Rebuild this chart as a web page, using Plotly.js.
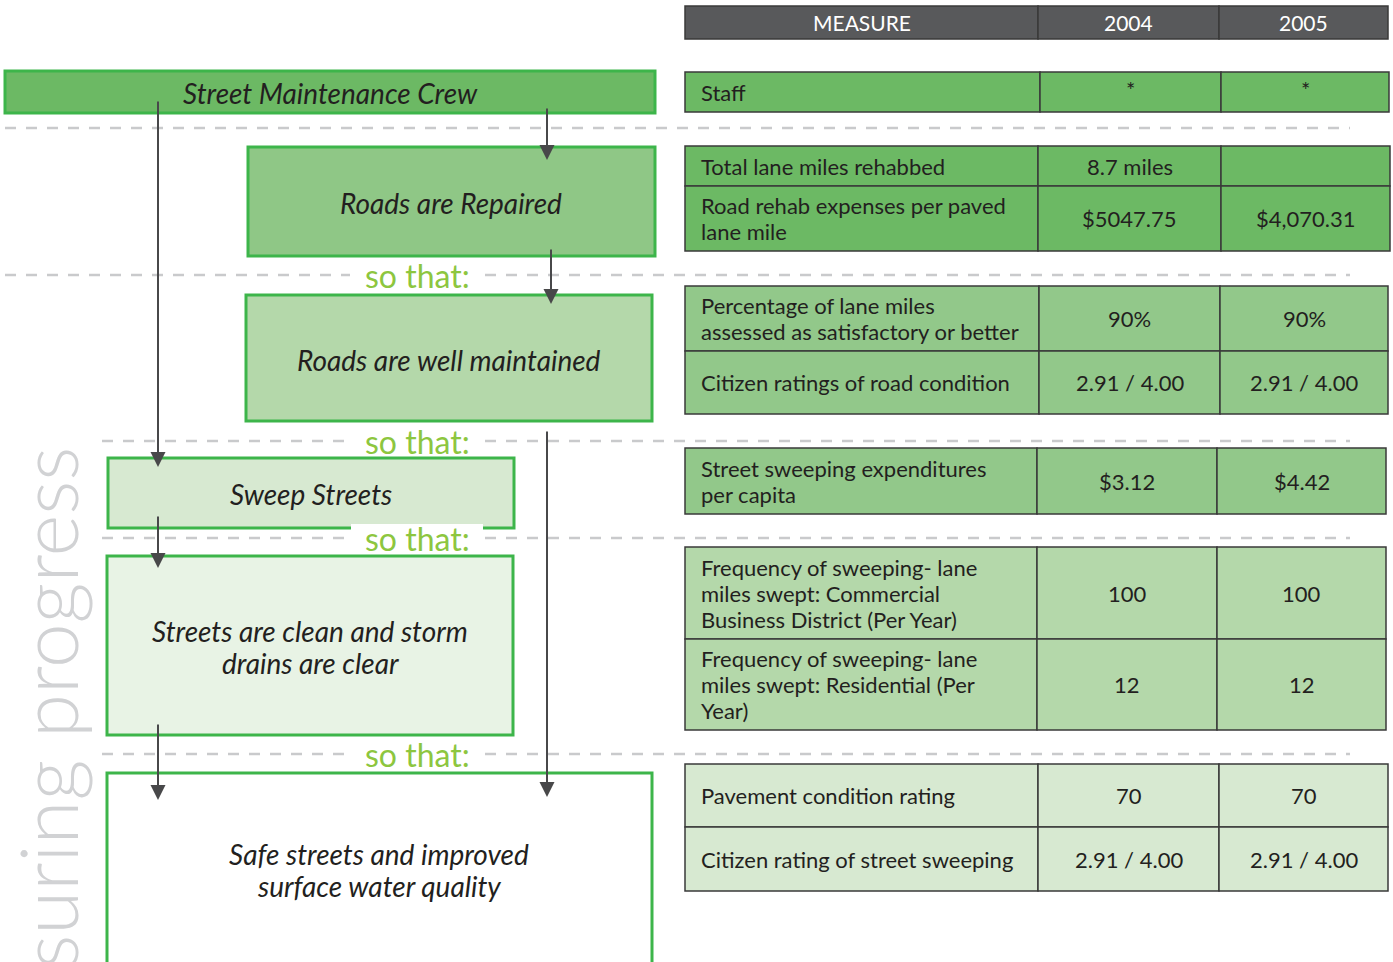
<!DOCTYPE html>
<html>
<head>
<meta charset="utf-8">
<script src="https://cdn.plot.ly/plotly-3.0.1.min.js"></script>
<style>html,body{margin:0;padding:0;background:#fff;}#chart{width:1393px;height:962px;}</style>
</head>
<body>
<div id="chart"></div>
<script>
// ---------- DATA ----------
const flowLabels = [
  "Street Maintenance Crew",
  "Roads are Repaired",
  "Roads are well maintained",
  "Sweep Streets",
  "Streets are clean and storm<br>drains are clear",
  "Safe streets and improved<br>surface water quality"
];
const connectorLabel = "so that:";
const sideLabel = "measuring progress";
const headers = ["MEASURE", "2004", "2005"];
const measures = [
  "Staff",
  "Total lane miles rehabbed",
  "Road rehab expenses per paved<br>lane mile",
  "Percentage of lane miles<br>assessed as satisfactory or better",
  "Citizen ratings of road condition",
  "Street sweeping expenditures<br>per capita",
  "Frequency of sweeping- lane<br>miles swept: Commercial<br>Business District (Per Year)",
  "Frequency of sweeping- lane<br>miles swept: Residential (Per<br>Year)",
  "Pavement condition rating",
  "Citizen rating of street sweeping"
];
const values2004 = ["*", "8.7 miles", "$5047.75", "90%", "2.91 / 4.00", "$3.12", "100", "12", "70", "2.91 / 4.00"];
const values2005 = ["*", "", "$4,070.31", "90%", "2.91 / 4.00", "$4.42", "100", "12", "70", "2.91 / 4.00"];
const rowGroup = [0, 1, 1, 2, 2, 3, 4, 4, 5, 5];

// ---------- LAYOUT GEOMETRY (pixels) ----------
const W = 1393, H = 962;
const headerBox = {y0: 6, y1: 39, cols: [685, 1038, 1219, 1388]};
const rowEdges = [[72,112],[146,186],[186,251],[286,351],[351,414],[448,514],[547,639],[639,730],[764,827],[827,891]];
const groupCols = [
  [685,1040,1221,1389],[685,1038,1221,1390],[685,1039,1220,1388],
  [685,1037,1217,1386],[685,1037,1217,1386],[685,1038,1219,1388]
];
const groupFill = ['#6cb964','#6cb964','#92c88a','#92c88a','#b4d8aa','#d7e9d1'];
const flowBoxes = [[5,655,71,113],[248,655,147,256],[246,652,295,421],[108,514,458,528],[107,513,556,735],[107,652,773,990]];
const flowFill = ['#6cb964','#8fc786','#b4d8aa','#d7e9d1','#e8f3e5','#ffffff'];
const flowTextPos = [[330,93],[451,203],[449,360],[311,494],[310,647],[379,870]];
const dashRows = [
  {y:128, x0:5,   label:false},
  {y:275, x0:5,   label:true},
  {y:441, x0:102, label:true},
  {y:538, x0:102, label:true},
  {y:754, x0:102, label:true}
];
const dashEnd = 1350, gapL = 350, gapR = 485, labelX = 417;
const arrows = [[158,100,158,467],[547,107,547,160],[551,248,551,304],[547,430,547,797],[158,515,158,568],[158,723,158,800]];

// ---------- STYLE ----------
const FONT = 'Lato, "Open Sans", sans-serif';
const textDark = '#231f20';
const boxBorder = '#3db54a';
const cellLine = '#3a3a3a';
const cellFont = 22, cellLineGap = 26;
const flowFont = 28, flowLineGap = 32;

const shapes = [];
const annotations = [];

function addLines(text, x, yMid, gap, xanchor, font) {
  const lines = text.split('<br>');
  const n = lines.length;
  lines.forEach((ln, j) => {
    annotations.push({x:x, y:yMid + (j - (n-1)/2) * gap, xref:'x', yref:'y', text:ln, showarrow:false,
      xanchor:xanchor, yanchor:'middle', align:xanchor === 'left' ? 'left' : 'center', font:font});
  });
}

// dashed separators
dashRows.forEach(d => {
  const segs = d.label ? [[d.x0, gapL], [gapR, dashEnd]] : [[d.x0, dashEnd]];
  segs.forEach(s => shapes.push({type:'line', xref:'x', yref:'y', x0:s[0], x1:s[1], y0:d.y, y1:d.y,
    line:{color:'#c9cacc', width:2.5, dash:'11px,10px'}, layer:'below'}));
  if (d.label) {
    annotations.push({x:labelX, y:d.y, xref:'x', yref:'y', text:connectorLabel, showarrow:false,
      xanchor:'center', yanchor:'middle', font:{family:FONT, size:32, color:'#8dc63f'}});
  }
});

// flow boxes
flowBoxes.forEach((b, i) => {
  shapes.push({type:'rect', xref:'x', yref:'y', x0:b[0], x1:b[1], y0:b[2], y1:b[3],
    fillcolor:flowFill[i], line:{color:boxBorder, width:3}, layer:'above'});
  addLines(flowLabels[i], flowTextPos[i][0], flowTextPos[i][1], flowLineGap, 'center',
    {family:FONT, size:flowFont, color:textDark, style:'italic'});
});
// white notch behind the connector label on the "Sweep Streets" box edge
shapes.push({type:'rect', xref:'x', yref:'y', x0:gapL+1, x1:gapR-2, y0:524, y1:532,
  fillcolor:'#ffffff', line:{width:0}, layer:'above'});

// header row
const hc = headerBox.cols;
for (let c = 0; c < 3; c++) {
  shapes.push({type:'rect', xref:'x', yref:'y', x0:hc[c], x1:hc[c+1], y0:headerBox.y0, y1:headerBox.y1,
    fillcolor:'#58595b', line:{color:'#3a3a3a', width:1.5}, layer:'above'});
  annotations.push({x:(hc[c]+hc[c+1])/2, y:(headerBox.y0+headerBox.y1)/2, xref:'x', yref:'y',
    text:headers[c], showarrow:false, xanchor:'center', yanchor:'middle',
    font:{family:FONT, size:21, color:'#ffffff'}});
}

// table rows
measures.forEach((m, i) => {
  const g = rowGroup[i];
  const cols = groupCols[g];
  const [y0, y1] = rowEdges[i];
  const ym = (y0 + y1) / 2;
  for (let c = 0; c < 3; c++) {
    shapes.push({type:'rect', xref:'x', yref:'y', x0:cols[c], x1:cols[c+1], y0:y0, y1:y1,
      fillcolor:groupFill[g], line:{color:cellLine, width:1.5}, layer:'above'});
  }
  addLines(m, cols[0]+14, ym, cellLineGap, 'left', {family:FONT, size:cellFont, color:textDark});
  const vals = [values2004[i], values2005[i]];
  vals.forEach((v, k) => {
    if (v === '') return;
    annotations.push({x:(cols[k+1]+cols[k+2])/2, y:(v === '*') ? ym-3 : ym, xref:'x', yref:'y',
      text:v, showarrow:false, xanchor:'center', yanchor:'middle',
      font:{family:FONT, size:cellFont, color:textDark}});
  });
});

// arrows
arrows.forEach(a => {
  annotations.push({x:a[2], y:a[3], ax:a[0], ay:a[1], xref:'x', yref:'y', axref:'x', ayref:'y',
    text:'', showarrow:true, arrowhead:2, arrowsize:1.5, arrowwidth:2, arrowcolor:'#48484a', standoff:0});
});

// side label
annotations.push({x:46, y:445, xref:'x', yref:'y', text:sideLabel, showarrow:false, textangle:-90,
  xanchor:'center', yanchor:'top', font:{family:FONT, size:80, color:'#d1d2d4', weight:300}});

const layout = {
  width: W, height: H,
  margin: {l:0, r:0, t:0, b:0, pad:0},
  paper_bgcolor: '#ffffff', plot_bgcolor: '#ffffff',
  showlegend: false,
  xaxis: {range:[0, W], visible:false, fixedrange:true},
  yaxis: {range:[H, 0], visible:false, fixedrange:true},
  shapes: shapes,
  annotations: annotations
};

Plotly.newPlot('chart', [], layout, {displayModeBar:false, staticPlot:true});
</script>
</body>
</html>
